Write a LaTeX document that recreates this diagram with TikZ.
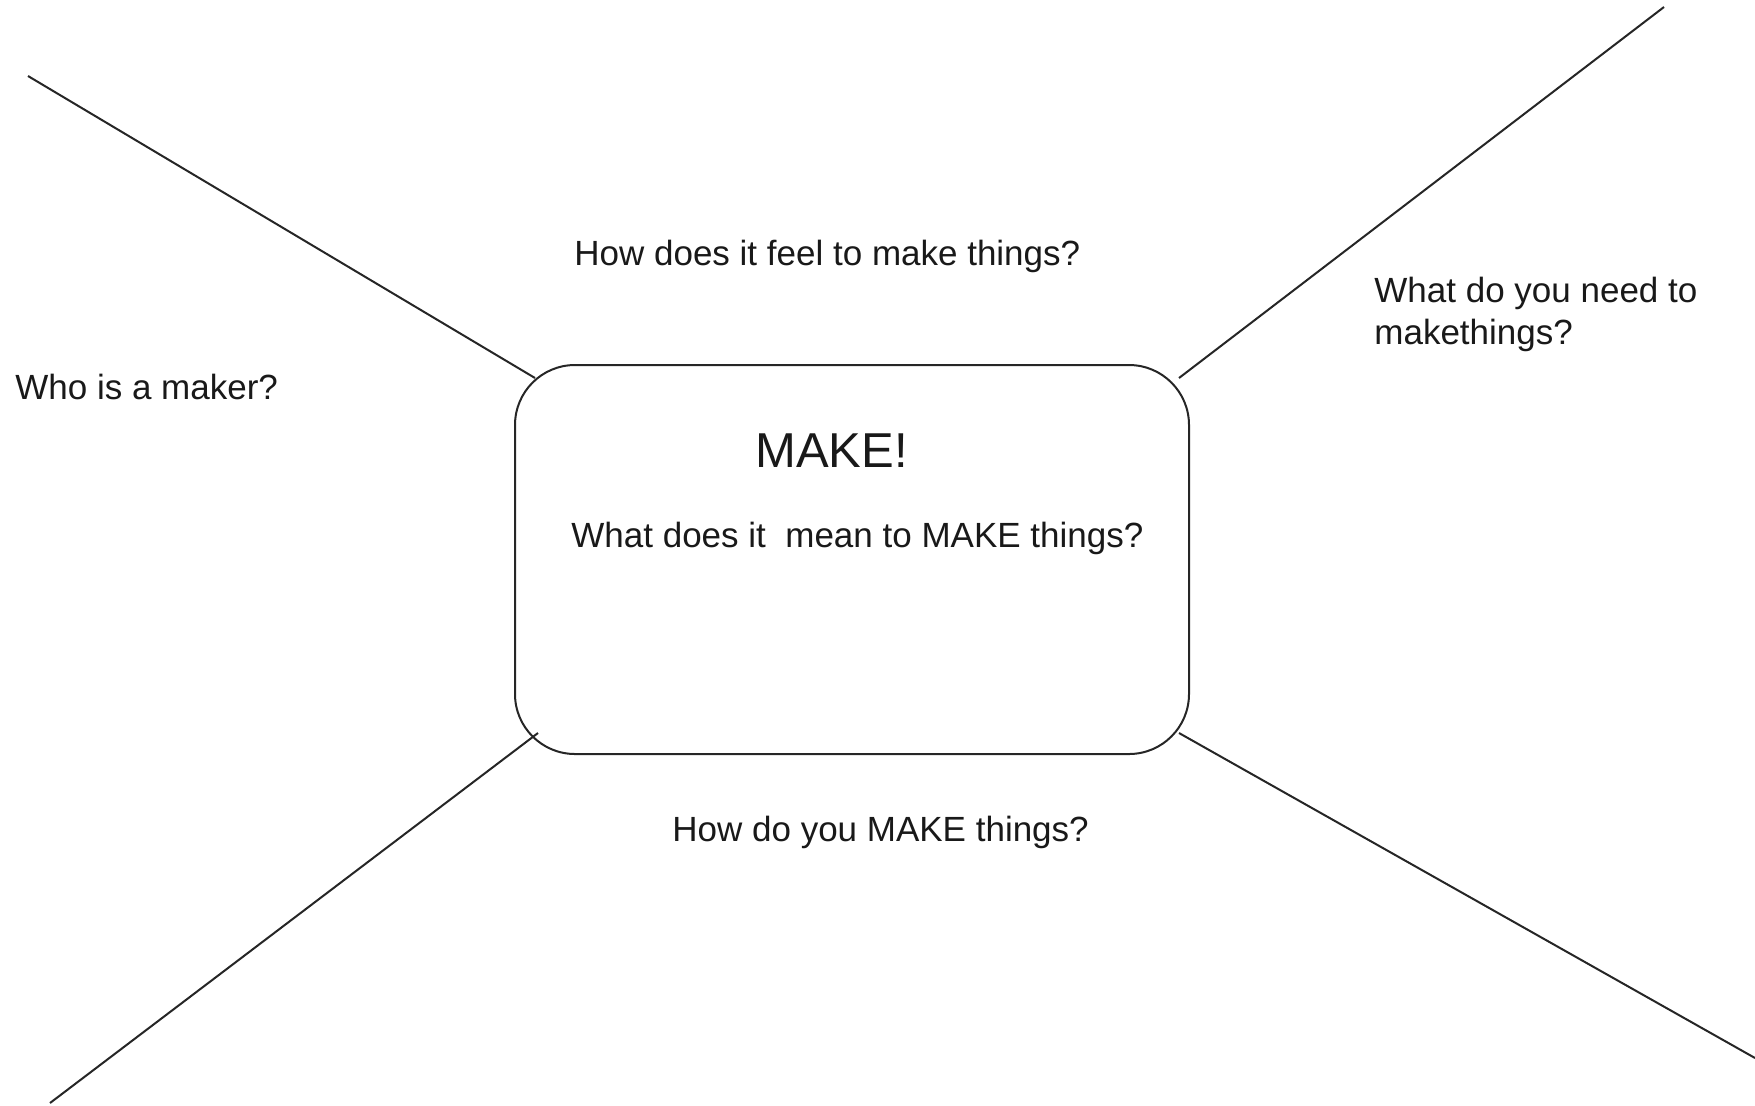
\documentclass[tikz,border=0pt]{standalone}
\usepackage{fontspec}
\setmainfont{Liberation Sans}
\begin{document}
\begin{tikzpicture}[x=0.5pt,y=-0.5pt,
  txt/.style={inner sep=0pt, anchor=base west, font=\fontsize{17.5}{21}\selectfont, text=black!90},
  bigtxt/.style={inner sep=0pt, anchor=base west, font=\fontsize{24.5}{29}\selectfont, text=black!90},
  spoke/.style={line width=1pt, draw=black!85},
  mainbox/.style={draw=black!85, line width=1pt, rounded corners=30pt, minimum width=337pt, minimum height=194.5pt, inner sep=0pt}]
\useasboundingbox (0,0) rectangle (1755,1105);
% central box
\node[mainbox] (box) at (852,559.5) {};
% spokes
\coordinate (tlfar) at (28,76);
\coordinate (tlnear) at (535,378);
\coordinate (trfar) at (1664,7);
\coordinate (trnear) at (1179,378);
\coordinate (blfar) at (50,1103);
\coordinate (blnear) at (538,733);
\coordinate (brfar) at (1755,1058);
\coordinate (brnear) at (1179,733);
\draw[spoke] (tlfar) -- (tlnear);
\draw[spoke] (trfar) -- (trnear);
\draw[spoke] (blfar) -- (blnear);
\draw[spoke] (brfar) -- (brnear);
% texts
\node[txt] (feel) at (574,265) {How does it feel to make things?};
\node[txt] (who) at (15,399) {Who is a maker?};
\node[txt] (need1) at (1374,302) {What do you need to};
\node[txt] (need2) at (1374,344) {makethings?};
\node[bigtxt] (make) at (755,467) {MAKE!};
\node[txt] (mean) at (571,547) {What does it\ \ mean to MAKE things?};
\node[txt] (how) at (672,841) {How do you MAKE things?};
\end{tikzpicture}
\end{document}
